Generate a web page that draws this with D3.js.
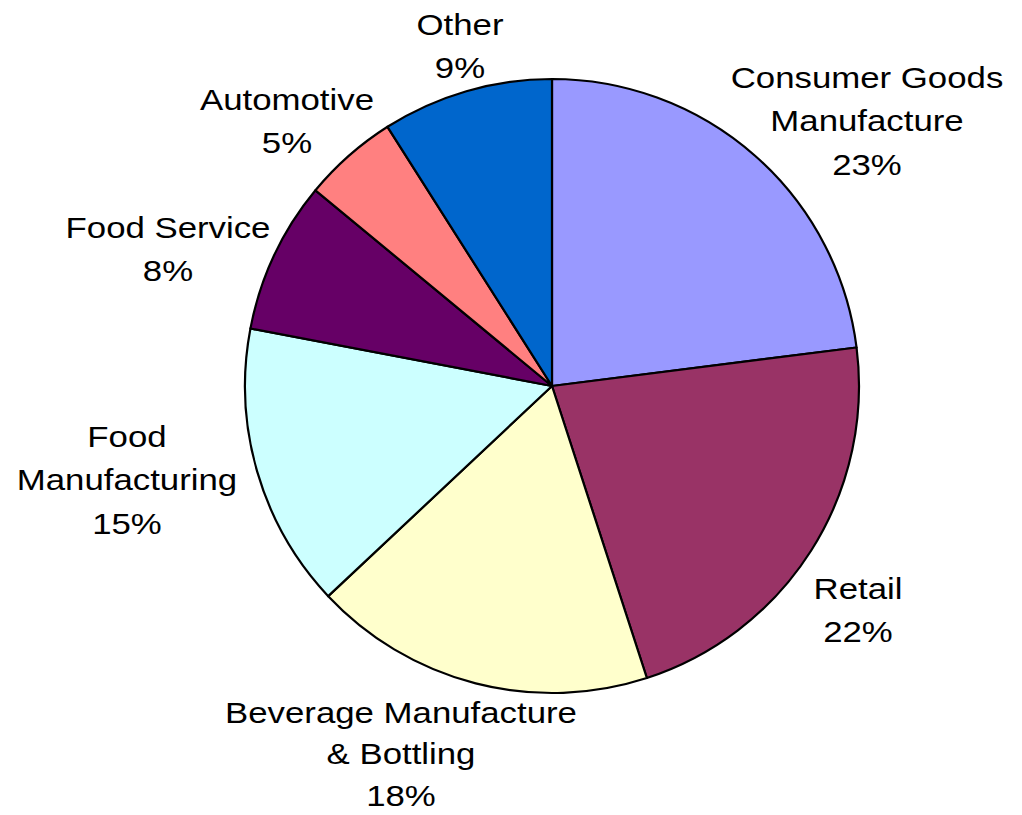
<!DOCTYPE html>
<html>
<head>
<meta charset="utf-8">
<script src="https://cdn.jsdelivr.net/npm/d3@7/dist/d3.min.js"></script>
<style>
  html, body { margin: 0; padding: 0; background: #fff; }
  svg { display: block; }
  .lbl { font-family: "Liberation Sans", Arial, sans-serif; font-size: 30px; fill: #000; }
</style>
</head>
<body>
<svg id="chart" width="1022" height="815"></svg>
<script>
// Share of customers by industry sector (percent)
const categories = [
  "Consumer Goods Manufacture",
  "Retail",
  "Beverage Manufacture & Bottling",
  "Food Manufacturing",
  "Food Service",
  "Automotive",
  "Other"
];
const shares = [23, 22, 18, 15, 8, 5, 9];
const colors = ["#9999FF", "#993366", "#FFFFCC", "#CCFFFF", "#660066", "#FF8080", "#0066CC"];
// Label text broken into lines as it is printed beside each slice
const labelLines = [
  ["Consumer Goods", "Manufacture"],
  ["Retail"],
  ["Beverage Manufacture", "& Bottling"],
  ["Food", "Manufacturing"],
  ["Food Service"],
  ["Automotive"],
  ["Other"]
];

// Layout
const cx = 552, cy = 386, radius = 307;
const lineGap = 43.5;
const labelStretch = 1.16;
// centre x, first baseline and line gap of each label block
const labelAnchor = {
  "Consumer Goods Manufacture": [867, 88, lineGap],
  "Retail": [858, 599, lineGap],
  "Beverage Manufacture & Bottling": [401, 723, 41.5],
  "Food Manufacturing": [127, 447, lineGap],
  "Food Service": [168, 238, lineGap],
  "Automotive": [287, 110, lineGap],
  "Other": [460, 35, lineGap]
};

const svg = d3.select("#chart");
const data = categories.map((c, i) => ({ name: c, value: shares[i], color: colors[i], lines: labelLines[i] }));

const pie = d3.pie().sort(null).value(d => d.value);
const arc = d3.arc().innerRadius(0).outerRadius(radius);

const g = svg.append("g").attr("transform", `translate(${cx},${cy})`);
g.selectAll("path")
  .data(pie(data))
  .join("path")
  .attr("d", arc)
  .attr("fill", d => d.data.color)
  .attr("stroke", "#000")
  .attr("stroke-width", 2.2)
  .attr("stroke-linejoin", "round");

const labels = svg.append("g");
data.forEach(d => {
  const [x, y, gap] = labelAnchor[d.name];
  const t = labels.append("text")
    .attr("class", "lbl")
    .attr("text-anchor", "middle")
    .attr("transform", `translate(${x},${y}) scale(${labelStretch},1)`);
  const lines = d.lines.concat([d3.format(".0f")(d.value) + "%"]);
  lines.forEach((ln, i) => {
    t.append("tspan").attr("x", 0).attr("y", i * gap).text(ln);
  });
});
</script>
</body>
</html>
